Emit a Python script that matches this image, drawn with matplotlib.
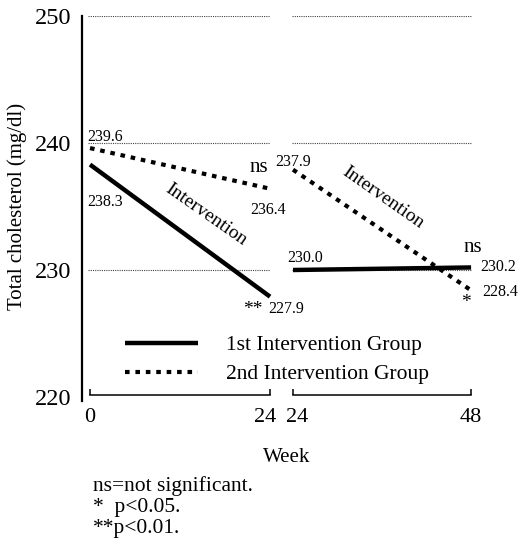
import matplotlib
matplotlib.use("Agg")
import matplotlib.pyplot as plt
from matplotlib.lines import Line2D
from matplotlib.transforms import ScaledTranslation

plt.rcParams['font.family'] = ['Liberation Serif', 'DejaVu Serif']

# ---- data ----
weeks_first = [0, 24]
weeks_second = [24, 48]
group1_p1 = [238.3, 227.9]   # 1st intervention group, weeks 0-24
group2_p1 = [239.6, 236.4]   # 2nd intervention group, weeks 0-24
group1_p2 = [230.0, 230.2]   # 1st intervention group, weeks 24-48
group2_p2 = [237.9, 228.4]   # 2nd intervention group, weeks 24-48
yticks = [220, 230, 240, 250]
grid_levels = [230, 240, 250]
legend_labels = ["1st Intervention Group", "2nd Intervention Group"]
footnotes = ["ns=not significant.", "*  p<0.05.", "**p<0.01."]

W, H = 518, 546
fig = plt.figure(figsize=(W / 100, H / 100), dpi=100)

def px_axes(left, top, right, bottom):
    return fig.add_axes([left / W, 1 - bottom / H, (right - left) / W, (bottom - top) / H])

ppu = (397 - 16) / 30.0
ybot = 219.7
ax1 = px_axes(82, 16, 82 + 25.6 * 7.5, 397 + 0.3 * ppu)
ax2 = px_axes(293 - 0.6 * 7.42, 16, 293 + 24.6 * 7.42, 397 + 0.3 * ppu)
ax1.set_xlim(-1.07, 24.53)
ax2.set_xlim(23.4, 48.6)
for ax in (ax1, ax2):
    ax.set_ylim(ybot, 250)
    ax.patch.set_alpha(0)
    ax.spines['top'].set_visible(False)
    ax.spines['right'].set_visible(False)
    ax.spines['bottom'].set_position(('data', 220.15))
    ax.spines['bottom'].set_linewidth(1.1)
    ax.tick_params(axis='x', direction='in', length=4.5, width=1.1, pad=9,
                   labelsize=16)

ax1.spines['left'].set_linewidth(1.6)
ax1.spines['left'].set_bounds(ybot, 250)
ax1.spines['bottom'].set_bounds(0, 24)
ax1.set_xticks(weeks_first)
ax1.set_yticks(yticks)
ax1.tick_params(axis='y', length=0, pad=8, labelsize=17.5)

ax2.spines['left'].set_visible(False)
ax2.spines['bottom'].set_bounds(24, 48)
ax2.set_xticks(weeks_second)
ax2.set_yticks([])

# nudge the two "24" labels apart, as in the reference
fig.canvas.draw()
lab_left = ax1.get_xticklabels()[1]
lab_left.set_transform(lab_left.get_transform() + ScaledTranslation(-5 / 100, 0, fig.dpi_scale_trans))
lab_right = ax2.get_xticklabels()[0]
lab_right.set_transform(lab_right.get_transform() + ScaledTranslation(4 / 100, 0, fig.dpi_scale_trans))

grid_kw = dict(colors='#444444', linewidth=0.8, linestyles=(0, (1, 1)))
ax1.hlines(grid_levels, -0.3, 24, **grid_kw)
ax2.hlines(grid_levels, 23.9, 48.1, **grid_kw)

solid_kw = dict(color='black', linewidth=3.2, solid_capstyle='butt')
dash_kw = dict(color='black', linewidth=3.0, dashes=(1.1, 1.4), dash_capstyle='butt')
ax1.plot(weeks_first, group1_p1, **solid_kw, clip_on=False)
ax1.plot(weeks_first, group2_p1, **dash_kw, clip_on=False)
ax2.plot(weeks_second, group1_p2, **solid_kw, clip_on=False)
ax2.plot(weeks_second, group2_p2, **dash_kw, clip_on=False)

small = 11.5
def t(ax, x, y, s, size=small, **kw):
    kw.setdefault('va', 'baseline')
    kw.setdefault('ha', 'left')
    ax.text(x, y, s, fontsize=size, clip_on=False, **kw)

# left panel annotations
t(ax1, -0.4, 240.19, f"{group2_p1[0]:.1f}")
t(ax1, -0.4, 235.04, f"{group1_p1[0]:.1f}")
t(ax1, 15.5, 234.33, "Intervention", size=14, ha='center', va='center',
  rotation=-35, rotation_mode='anchor')
t(ax1, 22.5, 237.74, "ns", size=15, ha='center')
t(ax1, 21.33, 234.41, f"{group2_p1[1]:.1f}")
t(ax1, 20.4, 226.5, "**", size=14)
t(ax1, 23.73, 226.65, f"{group1_p1[1]:.1f}")

# right panel annotations
t(ax2, 21.57, 238.21, f"{group2_p2[0]:.1f}")
t(ax2, 36.13, 235.68, "Intervention", size=14, ha='center', va='center',
  rotation=-35, rotation_mode='anchor')
t(ax2, 23.19, 230.61, f"{group1_p2[0]:.1f}")
t(ax2, 48.26, 231.4, "ns", size=15, ha='center')
t(ax2, 49.2, 229.9, f"{group1_p2[1]:.1f}")
t(ax2, 49.47, 227.92, f"{group2_p2[1]:.1f}")
t(ax2, 47.3, 227.1, "*", size=14, ha='center')

# legend
h1 = Line2D([], [], **solid_kw)
h2 = Line2D([], [], **dash_kw)
leg = ax1.legend([h1, h2], legend_labels, loc='upper left',
                 bbox_to_anchor=(125 / W, 1 - 335 / H), bbox_transform=fig.transFigure,
                 frameon=False, fontsize=15.5, handlelength=3.4, handletextpad=1.3,
                 labelspacing=0.42, borderpad=0, borderaxespad=0)
leg.set_clip_on(False)

fig.text(17 / W, 1 - 206 / H, "Total cholesterol (mg/dl)", rotation=90,
         ha='center', va='center', fontsize=15)
fig.text(287 / W, 1 - 458 / H, "Week", ha='center', va='center', fontsize=15)
for i, s in enumerate(footnotes):
    fig.text(93 / W, 1 - (491 + 21 * i) / H, s, ha='left', va='baseline', fontsize=15.5)

fig.savefig("out.png", dpi=100)
